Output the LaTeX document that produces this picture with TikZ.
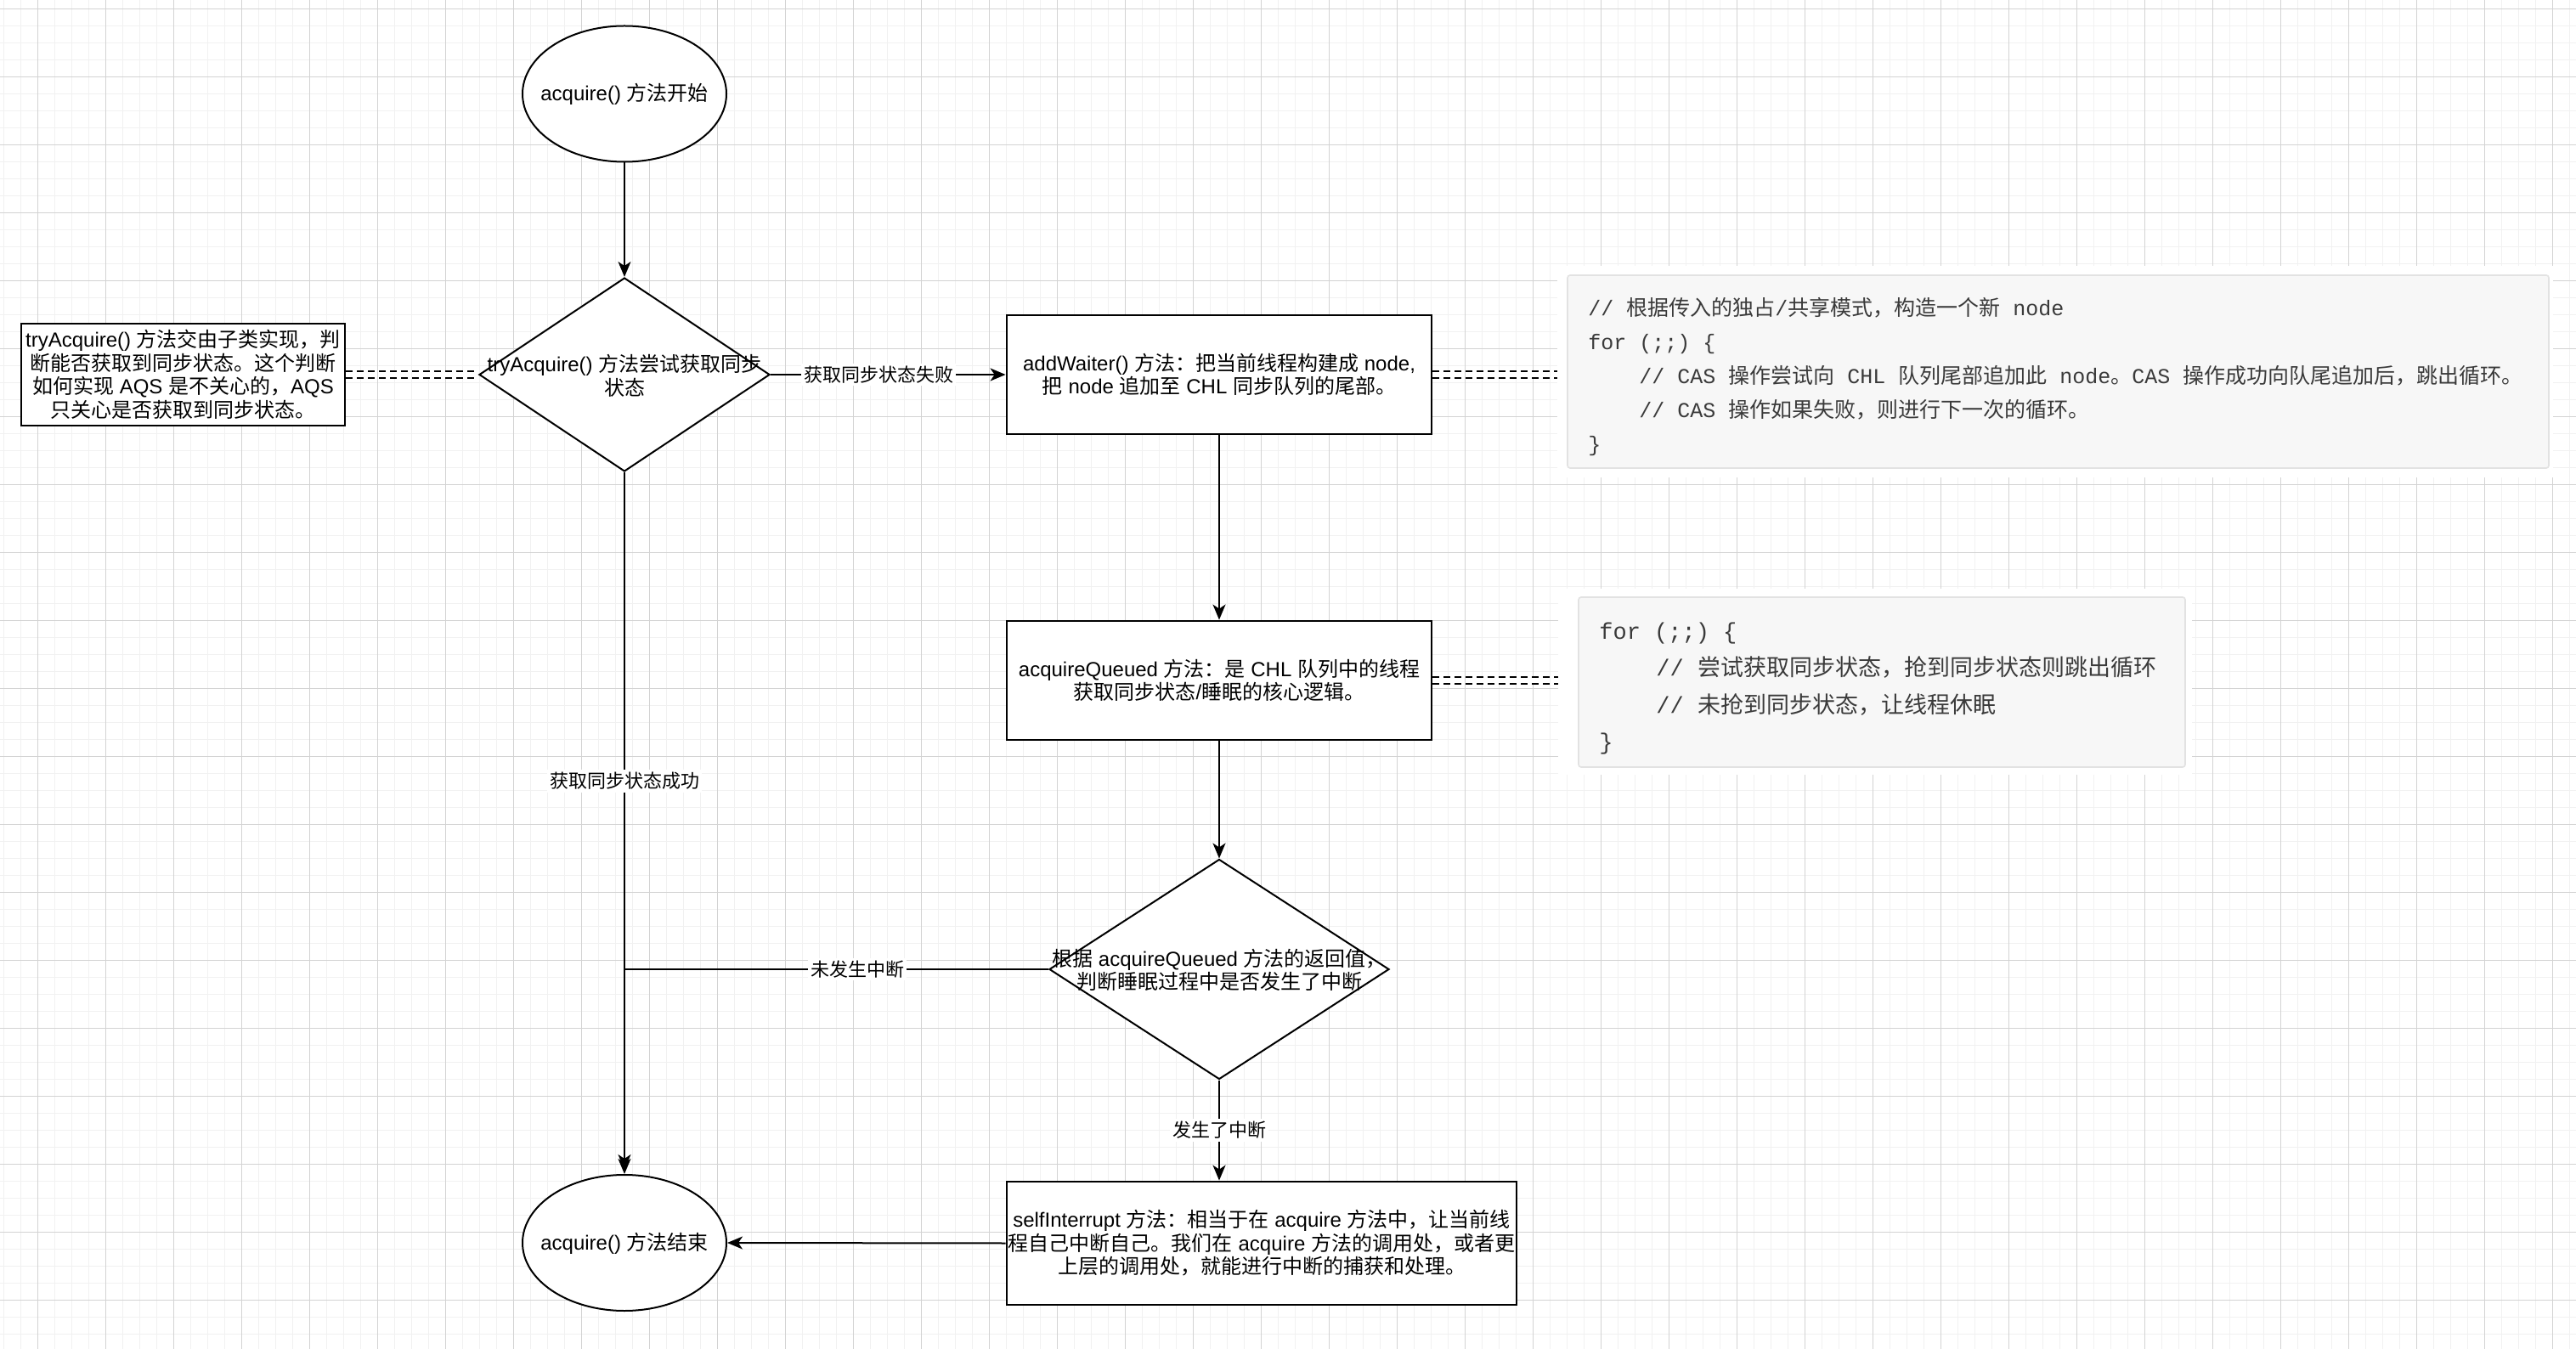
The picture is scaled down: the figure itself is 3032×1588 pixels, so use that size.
\documentclass[tikz,border=0pt]{standalone}
\usepackage{fontspec}
\setmainfont{Liberation Sans}
\setmonofont{Liberation Mono}
\newfontfamily\cjkfont{Noto Sans CJK SC}
\usetikzlibrary{shapes.geometric,arrows.meta}

% automatic switch to the CJK font for CJK characters
\newXeTeXintercharclass\CJKcls
\newcount\cjkc
\cjkc="2E80
\loop
  \XeTeXcharclass\cjkc=\CJKcls
  \ifnum\cjkc<"9FFF \advance\cjkc by 1
\repeat
\cjkc="FF00
\loop
  \XeTeXcharclass\cjkc=\CJKcls
  \ifnum\cjkc<"FFEF \advance\cjkc by 1
\repeat
\def\backfont{\rmfamily}
\XeTeXinterchartoks 0 \CJKcls = {\cjkfont}
\XeTeXinterchartoks 4095 \CJKcls = {\cjkfont}
\XeTeXinterchartoks \CJKcls 0 = {\backfont}
\XeTeXinterchartoks \CJKcls 4095 = {\backfont}
\XeTeXinterchartokenstate=1

\definecolor{gridmin}{HTML}{F1F1F1}
\definecolor{gridmaj}{HTML}{D3D3D3}
\definecolor{codebg}{HTML}{F7F7F7}
\definecolor{codeedge}{HTML}{E2E2E2}
\definecolor{codetext}{HTML}{3A3A3A}

\newcommand\mynodefont{\fontsize{12}{13.8}\selectfont}
\newcommand\mylabelfont{\fontsize{11}{13}\selectfont}

\tikzset{
  minorl/.style={draw=gridmin, line width=0.7pt},
  majorl/.style={draw=gridmaj, line width=0.5pt},
  oval/.style={ellipse, draw, fill=white, line width=1pt, minimum width=120pt,
    minimum height=80pt, inner sep=0pt},
  dia/.style={diamond, draw, fill=white, line width=1pt, inner sep=0pt},
  procbox/.style={rectangle, draw, fill=white, line width=1.4pt, inner sep=0pt,
    align=center, font=\mynodefont},
  ntext/.style={align=center, inner sep=0pt, font=\mynodefont},
  arr/.style={-{Stealth[length=9pt,width=7.5pt,inset=2.5pt]}, line width=1pt},
  elabel/.style={fill=white, inner sep=1.5pt, font=\mylabelfont},
  dlink/.style={draw=black, double=white, double distance=3pt, line width=1pt,
    dash pattern=on 4pt off 2.5pt},
  codeframe/.style={rectangle, fill=white, inner sep=0pt},
  codebox/.style={rectangle, draw=codeedge, fill=codebg, line width=0.8pt,
    rounded corners=1.5pt, inner sep=0pt},
  codeA/.style={anchor=base west, inner sep=0pt, text=codetext,
    font={\def\backfont{\ttfamily}\ttfamily\fontsize{12.5}{15}\selectfont}},
  codeB/.style={anchor=base west, inner sep=0pt, text=codetext,
    font={\def\backfont{\ttfamily}\ttfamily\fontsize{13.5}{16}\selectfont}},
}

\begin{document}
\begin{tikzpicture}[x=0.5pt,y=-0.5pt]
\useasboundingbox (0,0) rectangle (3032,1588);
\fill[white] (0,0) rectangle (3032,1588);
% grid
\foreach \i in {0,...,151} \draw[minorl] ({4.3+20*\i},0) -- ({4.3+20*\i},1588);
\foreach \j in {0,...,78} \draw[minorl] (0,{10.3+20*\j}) -- (3032,{10.3+20*\j});
\foreach \i in {0,...,37} \draw[majorl] ({44.3+80*\i},0) -- ({44.3+80*\i},1588);
\foreach \j in {0,...,19} \draw[majorl] (0,{10.3+80*\j}) -- (3032,{10.3+80*\j});

% code panels
\node[codeframe, minimum width=586pt, minimum height=124.5pt] (c1) at (2419,437.5) {};
\node[codebox, minimum width=577.5pt, minimum height=113.5pt] (c1box) at (2422.5,437.5) {};
\node[codeframe, minimum width=373pt, minimum height=109.5pt] (c2) at (2207,802.5) {};
\node[codebox, minimum width=357pt, minimum height=100pt] (c2box) at (2215,803) {};

\node[codeA] (c1l1) at (1869,372) {// 根据传入的独占/共享模式，构造一个新 node};
\node[codeA] (c1l2) at (1869,412) {for (;;) \{};
\node[codeA] (c1l3) at (1929,452) {// CAS 操作尝试向 CHL 队列尾部追加此 node。CAS 操作成功向队尾追加后，跳出循环。};
\node[codeA] (c1l4) at (1929,492) {// CAS 操作如果失败，则进行下一次的循环。};
\node[codeA] (c1l5) at (1869,532) {\}};

\node[codeB] (c2l1) at (1882,753) {for (;;) \{};
\node[codeB] (c2l2) at (1949,796) {// 尝试获取同步状态，抢到同步状态则跳出循环};
\node[codeB] (c2l3) at (1949,839) {// 未抢到同步状态，让线程休眠};
\node[codeB] (c2l4) at (1882,882) {\}};

% flow nodes
\node[oval] (start) at (735,110.5) {};
\node[ntext] (startt) at (735,111) {acquire() 方法开始};
\node[dia, minimum width=171pt, minimum height=114pt] (d1) at (735,441) {};
\node[ntext] (d1t) at (735,442) {tryAcquire() 方法尝试获取同步\\状态};
\node[procbox, minimum width=190.5pt, minimum height=60pt] (tb) at (215.5,441)
  {tryAcquire() 方法交由子类实现，判\\断能否获取到同步状态。这个判断\\如何实现 AQS 是不关心的，AQS\\只关心是否获取到同步状态。};
\node[procbox, minimum width=250pt, minimum height=70pt] (aw) at (1435,441)
  {addWaiter() 方法：把当前线程构建成 node,\\把 node 追加至 CHL 同步队列的尾部。};
\node[procbox, minimum width=250pt, minimum height=70pt] (aq) at (1435,801)
  {acquireQueued 方法：是 CHL 队列中的线程\\获取同步状态/睡眠的核心逻辑。};
\node[dia, minimum width=200pt, minimum height=129.5pt] (d2) at (1435,1141) {};
\node[ntext] (d2t) at (1435,1142) {根据 acquireQueued 方法的返回值，\\判断睡眠过程中是否发生了中断};
\node[procbox, minimum width=300pt, minimum height=72.5pt] (si) at (1485,1463.5)
  {selfInterrupt 方法：相当于在 acquire 方法中，让当前线\\程自己中断自己。我们在 acquire 方法的调用处，或者更\\上层的调用处，就能进行中断的捕获和处理。};
\node[oval] (end) at (735,1463) {};
\node[ntext] (endt) at (735,1464) {acquire() 方法结束};

% connectors
\draw[arr] (start.south) -- (d1.north);
\draw[arr] (d1.east) -- node[elabel, pos=0.46] {获取同步状态失败} (aw.west);
\draw[arr] (aw.south) -- (aq.north);
\draw[arr] (aq.south) -- (d2.north);
\draw[arr] (d2.south) -- node[elabel] {发生了中断} (d2.south |- si.north);
\draw[arr] (si.west) -- (end.east);
\draw[arr] (d1.south) -- node[elabel, pos=0.44] {获取同步状态成功} (end.north);
\draw[arr, shorten >=2.5pt] (d2.west) -- node[elabel, pos=0.45] {未发生中断} (d2.west -| start.south) -- (end.north);

% dashed double links
\draw[dlink] (tb.east) -- (d1.west);
\draw[dlink] (aw.east) -- (aw.east -| c1.west);
\draw[dlink] (aq.east) -- (aq.east -| c2.west);
\end{tikzpicture}
\end{document}
